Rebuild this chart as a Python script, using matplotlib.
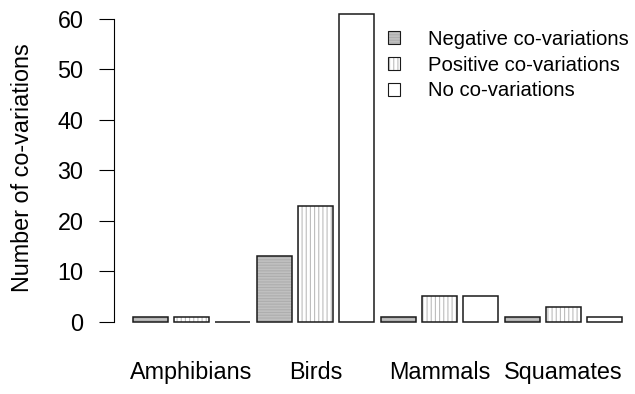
import matplotlib
matplotlib.use("Agg")
import matplotlib.pyplot as plt
from matplotlib.patches import Patch
from matplotlib.legend_handler import HandlerTuple
import numpy as np

groups = ["Amphibians", "Birds", "Mammals", "Squamates"]
negative = [1, 13, 1, 1]
positive = [1, 23, 5, 3]
no_covar = [0, 61, 5, 1]
series_names = ["Negative co-variations", "Positive co-variations", "No co-variations"]
y_ticks = [0, 10, 20, 30, 40, 50, 60]

plt.rcParams["font.family"] = ["Liberation Sans", "DejaVu Sans"]
plt.rcParams["hatch.linewidth"] = 0.8

# fill colour, hatch pattern, hatch colour for each series
styles = [
    ("#c0c0c0", "------", "#aeaeae"),
    ("white", "||||", "#bdbdbd"),
    ("white", "", "white"),
]

fig = plt.figure(figsize=(6.35, 3.94), dpi=100)
ax = fig.add_axes([114 / 635, 1 - 330 / 394, 1 - 114 / 635, 330 / 394])

px_per_unit = (321.7 - 19) / 60
ax.set_ylim(-(330 - 321.7) / px_per_unit, 321.7 / px_per_unit)
ax.set_xlim(-0.876, 11.73)

width = 0.85
handles = []
for k, values in enumerate([negative, positive, no_covar]):
    x = np.arange(len(groups)) * 3 + k
    face, hatch, hcol = styles[k]
    ax.bar(x, values, width=width, color=face, hatch=hatch, edgecolor=hcol,
           linewidth=0, clip_on=False)
    ax.bar(x, values, width=width, color="none", edgecolor="#1a1a1a",
           linewidth=1.1, clip_on=False)
    fill = Patch(facecolor=face, hatch=hatch, edgecolor=hcol, linewidth=0)
    edge = Patch(facecolor="none", edgecolor="#1a1a1a", linewidth=0.8)
    handles.append((fill, edge))

ax.set_xticks(np.arange(len(groups)) * 3 + 1)
ax.set_xticklabels(groups, fontsize=16.8)
ax.tick_params(axis="x", length=0, pad=22)

ax.set_yticks(y_ticks)
ax.set_yticklabels([str(v) for v in y_ticks], fontsize=16.8)
ax.tick_params(axis="y", length=11, width=0.8, pad=11, direction="out")

for side in ["top", "right", "bottom"]:
    ax.spines[side].set_visible(False)
ax.spines["left"].set_bounds(0, 60)
ax.spines["left"].set_linewidth(0.8)

fig.text(23 / 635, 1 - 168 / 394, "Number of co-variations", rotation=90,
         ha="center", va="center", fontsize=16.8)

ax.legend(handles, series_names, handler_map={tuple: HandlerTuple(ndivide=1)},
          loc="upper left", bbox_to_anchor=(388 / 635, 1 - 30 / 394),
          bbox_transform=fig.transFigure, frameon=False, fontsize=14.6,
          handlelength=0.6, handleheight=0.6, handletextpad=1.35,
          labelspacing=0.33, borderpad=0, borderaxespad=0)

fig.savefig("out.png", dpi=100)
